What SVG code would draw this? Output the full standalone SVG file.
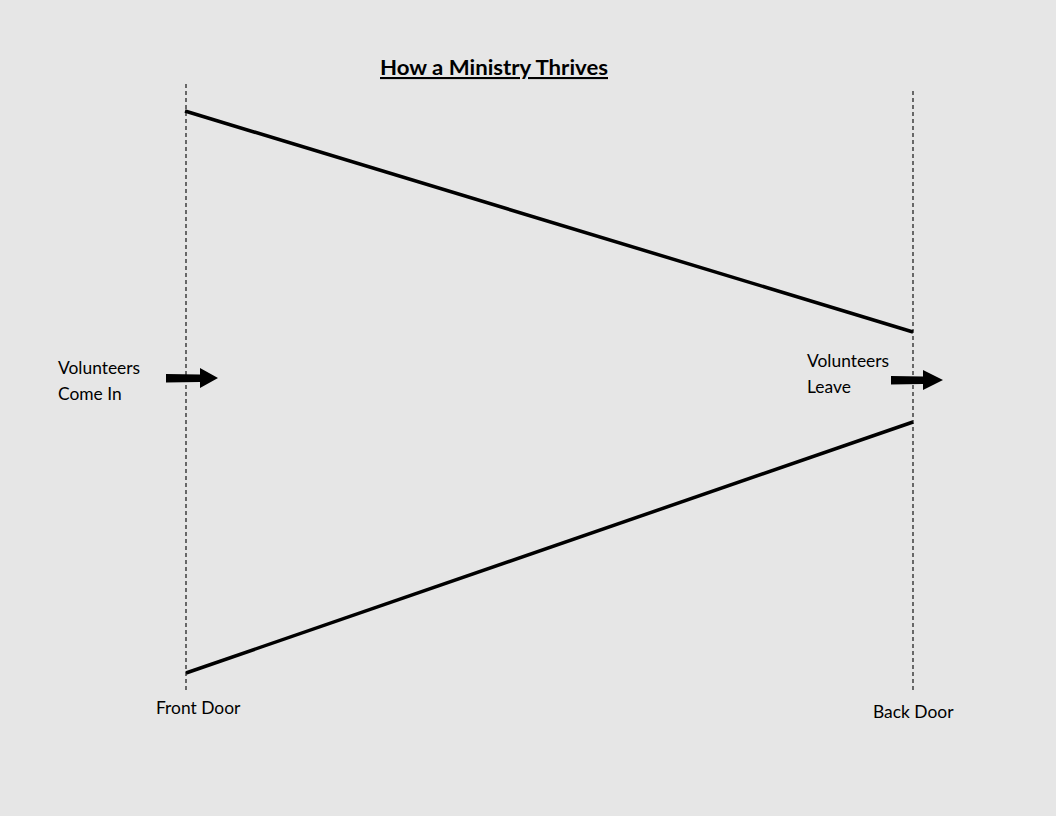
<svg xmlns="http://www.w3.org/2000/svg" width="1056" height="816" viewBox="0 0 1056 816">
<style>
text{font-family:Lato,"Open Sans","Liberation Sans",sans-serif;fill:#000;font-size:17.4px}
.title{font-size:21px;font-weight:bold;text-decoration:underline}
.door{stroke:#000;stroke-width:1.1;stroke-dasharray:4 3;fill:none}
.edge{stroke:#000;stroke-width:3.5;fill:none}
</style>
<rect width="1056" height="816" fill="#e6e6e6"/>
<g id="title"><text class="title" x="380" y="75" textLength="228" lengthAdjust="spacingAndGlyphs">How a Ministry Thrives</text></g>
<g id="connectors">
<line class="door" x1="186" y1="84" x2="186" y2="690"/>
<line class="door" x1="913" y1="91" x2="913" y2="692"/>
<line class="edge" x1="185" y1="111" x2="913" y2="332"/>
<line class="edge" x1="186" y1="673" x2="913" y2="422"/>
<polygon points="166,374 200,374.5 200,368 218,378 200,388 200,382 166,382.5" fill="#000"/>
<polygon points="891,376 923,376.5 923,370 943,380 923,390 923,384 891,384.5" fill="#000"/>
</g>
<g id="front-door"><text x="156" y="714">Front Door</text></g>
<g id="back-door"><text x="873" y="718">Back Door</text></g>
<g id="come-in"><text x="58" y="374">Volunteers</text><text x="58" y="400">Come In</text></g>
<g id="leave"><text x="807" y="367">Volunteers</text><text x="807" y="393">Leave</text></g>
</svg>
